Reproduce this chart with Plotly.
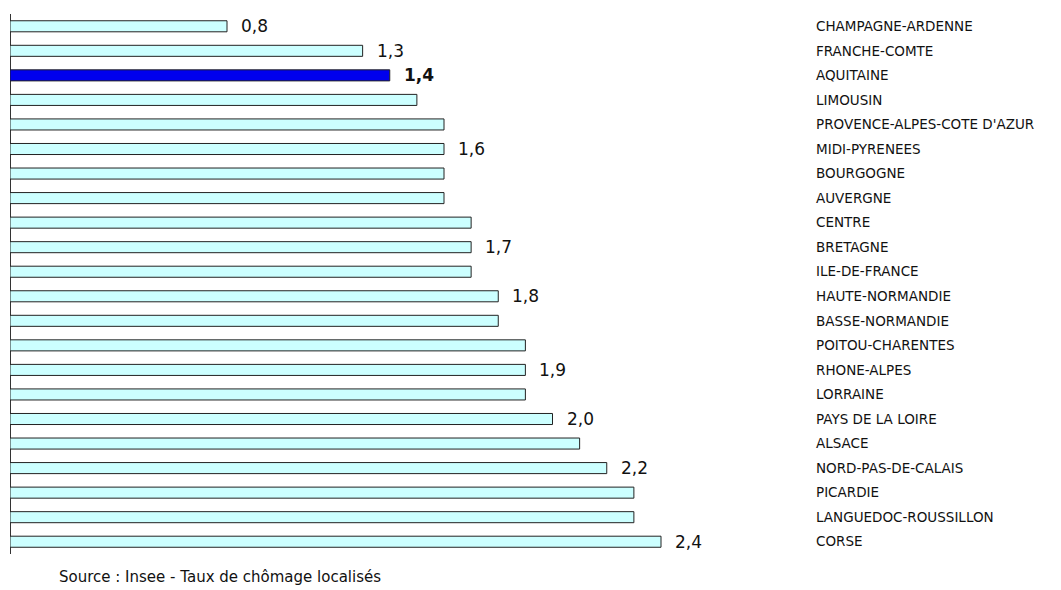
import plotly.graph_objects as go

regions = ["CHAMPAGNE-ARDENNE", "FRANCHE-COMTE", "AQUITAINE", "LIMOUSIN",
           "PROVENCE-ALPES-COTE D'AZUR", "MIDI-PYRENEES", "BOURGOGNE", "AUVERGNE",
           "CENTRE", "BRETAGNE", "ILE-DE-FRANCE", "HAUTE-NORMANDIE", "BASSE-NORMANDIE",
           "POITOU-CHARENTES", "RHONE-ALPES", "LORRAINE", "PAYS DE LA LOIRE", "ALSACE",
           "NORD-PAS-DE-CALAIS", "PICARDIE", "LANGUEDOC-ROUSSILLON", "CORSE"]
values = [0.8, 1.3, 1.4, 1.5, 1.6, 1.6, 1.6, 1.6, 1.7, 1.7, 1.7, 1.8, 1.8,
          1.9, 1.9, 1.9, 2.0, 2.1, 2.2, 2.3, 2.3, 2.4]
labels = ["0,8", "1,3", "<b>1,4</b>", "", "", "1,6", "", "", "", "1,7", "", "1,8", "",
          "", "1,9", "", "2,0", "", "2,2", "", "", "2,4"]
highlight = "AQUITAINE"

FONT = "DejaVu Sans, Arial"
colors = ["#0000EE" if r == highlight else "#CCFFFF" for r in regions]

fig = go.Figure()
fig.add_trace(go.Bar(
    x=values, y=regions, orientation="h",
    marker=dict(color=colors, line=dict(color="#222222", width=1)),
    width=0.45, hoverinfo="skip",
))

for r, v, t in zip(regions, values, labels):
    if t:
        fig.add_annotation(x=v, y=r, text=t, showarrow=False, xanchor="left",
                           xshift=12, font=dict(family=FONT, size=17, color="#111111"))

fig.add_annotation(xref="paper", yref="paper", x=0.059, y=-0.042, xanchor="left", yanchor="middle",
                   text="Source : Insee - Taux de chômage localisés", showarrow=False,
                   font=dict(family=FONT, size=15, color="#111111"))

fig.update_layout(
    width=1053, height=582,
    margin=dict(l=2, r=251, t=6, b=36),
    paper_bgcolor="white", plot_bgcolor="white",
    showlegend=False,
    xaxis=dict(range=[0, 800 / 271.25], showgrid=False, showticklabels=False,
               zeroline=True, zerolinecolor="#333333", zerolinewidth=1, fixedrange=True),
    yaxis=dict(autorange="reversed", side="right", showgrid=False, showline=False,
               ticks="", ticklabelstandoff=5,
               tickfont=dict(family=FONT, size=13.5, color="#111111")),
)

fig.write_html("out.html")
